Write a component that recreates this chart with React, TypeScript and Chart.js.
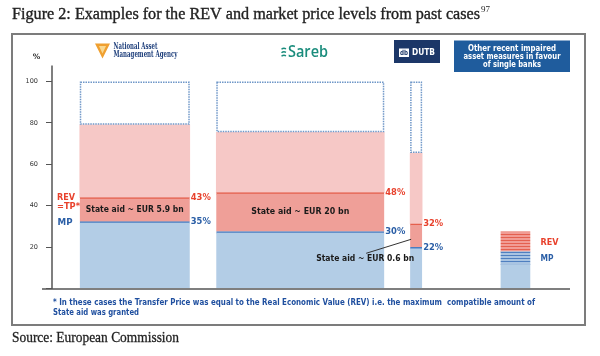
import React, { useEffect, useRef } from "react";
import { Chart, registerables } from "chart.js";

Chart.register(...registerables);

// ---------------- data ----------------
const caseNames = ["NAMA", "Sareb", "DUTB"];
const marketPrice = [32.3, 27.5, 19.9];
const realEconomicValue = [43.9, 46.3, 31.2];
const upperPinkTop = [79.1, 75.5, 65.4];
const fullValue = [100, 100, 100];
const mpLabels = ["35%", "30%", "22%"];
const revLabels = ["43%", "48%", "32%"];
const stateAidLabels = ["State aid ~ EUR 5.9 bn", "State aid ~ EUR 20 bn", "State aid ~ EUR 0.6 bn"];
const legendName = "Other";
const legendSolidMP = 11.6;
const legendStripedMP = 17.8;
const legendStripedREV = 27.4;
const yTickValues = [20, 40, 60, 80, 100];

const titleText = "Figure 2: Examples for the REV and market price levels from past cases";
const titleSup = "97";
const sourceText = "Source: European Commission";
const footnoteLines = [
  "* In these cases the Transfer Price was equal to the Real Economic Value (REV) i.e. the maximum  compatible amount of",
  "State aid was granted",
];
const otherBoxLines = ["Other recent impaired", "asset measures in favour", "of single banks"];

// ---------------- layout ----------------
const SLOT_COUNT = 30;
const caseSlots = [5, 15, 22];
const legendSlot = 28;
const caseWidths = [110, 168, 12];
const legendWidth = 29;

const BLUE = "#b3cde6";
const BLUE_LINE = "#4a7cc0";
const DARK_PINK = "#ef9f98";
const RED_LINE = "#e5604e";
const LIGHT_PINK = "#f6c8c6";
const RED_TEXT = "#e8412c";
const BLUE_TEXT = "#2a5ea6";
const DOT_BLUE = "#6f97c8";

const labels: string[] = Array.from({ length: SLOT_COUNT }, () => "");
caseSlots.forEach((s, i) => (labels[s] = caseNames[i]));
labels[legendSlot] = legendName;

function seg(slot: number, lo: number, hi: number, extra: any) {
  const data: any[] = labels.map(() => null);
  data[slot] = [lo, hi];
  return { data, borderSkipped: false, ...extra };
}

function stripePattern(bg: string, line: string) {
  const c = document.createElement("canvas");
  c.width = 4;
  c.height = 3;
  const g = c.getContext("2d")!;
  g.fillStyle = bg;
  g.fillRect(0, 0, 4, 3);
  g.fillStyle = line;
  g.fillRect(0, 0, 4, 1);
  return g.createPattern(c, "repeat");
}

function fitText(ctx: CanvasRenderingContext2D, s: string, x: number, y: number, font: string, color: string, width: number, align: "left" | "center" = "left", stroke = 0) {
  ctx.save();
  ctx.font = font;
  ctx.fillStyle = color;
  ctx.textBaseline = "middle";
  ctx.textAlign = "left";
  const w = ctx.measureText(s).width;
  const k = width / w;
  const left = align === "center" ? x - width / 2 : x;
  ctx.translate(left, y);
  ctx.scale(k, 1);
  ctx.fillText(s, 0, 0);
  if (stroke > 0) {
    ctx.strokeStyle = color;
    ctx.lineWidth = stroke;
    ctx.strokeText(s, 0, 0);
  }
  ctx.restore();
}

function plainText(ctx: CanvasRenderingContext2D, s: string, x: number, y: number, font: string, color: string, align: CanvasTextAlign = "left") {
  ctx.font = font;
  ctx.fillStyle = color;
  ctx.textAlign = align;
  ctx.textBaseline = "middle";
  ctx.fillText(s, x, y);
}

const decorPlugin = {
  id: "decor",
  beforeDraw(chart: any) {
    const ctx: CanvasRenderingContext2D = chart.ctx;
    ctx.save();
    ctx.fillStyle = "#fff";
    ctx.fillRect(0, 0, chart.width, chart.height);

    // title
    fitText(ctx, titleText, 12, 14.5, "16.5px 'Liberation Serif'", "#222", 468, "left", 0.35);
    plainText(ctx, titleSup, 481, 9.5, "9px 'Liberation Serif'", "#222");
    // source
    fitText(ctx, sourceText, 12, 337.5, "15.5px 'Liberation Serif'", "#222", 167, "left", 0.3);

    // frame
    ctx.strokeStyle = "#7c7c7c";
    ctx.lineWidth = 2;
    ctx.strokeRect(12, 34, 573, 291);

    // NAMA logo
    ctx.fillStyle = "#f0a030";
    ctx.beginPath();
    ctx.moveTo(95, 43.5);
    ctx.lineTo(110, 43.5);
    ctx.lineTo(102.5, 58.5);
    ctx.closePath();
    ctx.fill();
    ctx.fillStyle = "#f9d890";
    ctx.beginPath();
    ctx.moveTo(99, 46);
    ctx.lineTo(106, 46);
    ctx.lineTo(102.5, 53.5);
    ctx.closePath();
    ctx.fill();
    fitText(ctx, "National Asset", 113.5, 46.5, "bold 8.5px 'DejaVu Serif'", "#1c3d7a", 44);
    fitText(ctx, "Management Agency", 113.5, 55, "bold 8.5px 'DejaVu Serif'", "#1c3d7a", 64);

    // Sareb logo
    ctx.strokeStyle = "#1a8c7c";
    ctx.lineWidth = 1.4;
    for (let k = 0; k < 3; k++) {
      const yy = 48.5 + k * 3.5;
      ctx.beginPath();
      ctx.moveTo(281.5, yy + 0.8);
      ctx.quadraticCurveTo(283.5, yy - 1, 286, yy + 0.3);
      ctx.stroke();
    }
    fitText(ctx, "Sareb", 288, 52.5, "600 17px 'Open Sans'", "#1a8c7c", 40);

    // DUTB logo
    ctx.fillStyle = "#1c3768";
    ctx.fillRect(394, 40, 46, 23);
    ctx.fillStyle = "#fff";
    ctx.fillRect(399, 48.5, 10, 8.5);
    fitText(ctx, "db", 400, 52.8, "bold 7px 'DejaVu Sans'", "#1c3768", 8);
    fitText(ctx, "DUTB", 412, 52.5, "bold 8px 'DejaVu Sans'", "#fff", 23);

    // other box
    ctx.fillStyle = "#1f5c9d";
    ctx.fillRect(454, 40.5, 116, 31.5);
    const ow = [88, 97, 58];
    otherBoxLines.forEach((l, i) => fitText(ctx, l, 512, 48.5 + i * 8.3, "bold 8px 'DejaVu Sans'", "#fff", ow[i], "center"));

    // footnote
    fitText(ctx, footnoteLines[0], 53, 302.7, "bold 8px 'DejaVu Sans'", "#1f4f9f", 482);
    fitText(ctx, footnoteLines[1], 53, 312.7, "bold 8px 'DejaVu Sans'", "#1f4f9f", 86);

    // % label
    plainText(ctx, "%", 36.5, 57.5, "bold 7.5px 'DejaVu Sans'", "#333", "center");
    ctx.restore();
  },
  afterDatasetsDraw(chart: any) {
    const ctx: CanvasRenderingContext2D = chart.ctx;
    const area = chart.chartArea;
    const y = chart.scales.y;
    ctx.save();

    // dotted outlines of the remaining (upper) part
    chart.data.datasets.forEach((ds: any, di: number) => {
      if (!ds.dottedOutline) return;
      const meta = chart.getDatasetMeta(di);
      meta.data.forEach((el: any, idx: number) => {
        if (ds.data[idx] == null) return;
        const { x, y: top, base, width } = el.getProps(["x", "y", "base", "width"], true);
        ctx.strokeStyle = DOT_BLUE;
        ctx.lineWidth = 1.5;
        ctx.setLineDash([1.5, 1]);
        ctx.strokeRect(x - width / 2 + 0.75, top + 0.75, width - 1.5, base - top - 1.5);
        ctx.setLineDash([]);
      });
    });

    // axes
    ctx.strokeStyle = "#555";
    ctx.lineWidth = 1.5;
    ctx.beginPath();
    ctx.moveTo(area.left, area.top - 16);
    ctx.lineTo(area.left, area.bottom);
    ctx.moveTo(area.left - 10, area.bottom + 0.5);
    ctx.lineTo(area.right + 38, area.bottom + 0.5);
    ctx.stroke();

    // per-case annotations
    caseSlots.forEach((slot, i) => {
      const el = chart.getDatasetMeta(i * 4).data[slot];
      const { x, width } = el.getProps(["x", "width"], true);
      const right = x + width / 2;
      const left = x - width / 2;
      const font = "bold 8px 'DejaVu Sans'";
      fitText(ctx, revLabels[i], right + 1, y.getPixelForValue(realEconomicValue[i]), font, RED_TEXT, 20);
      fitText(ctx, mpLabels[i], right + 1, y.getPixelForValue(marketPrice[i]) + 0.5, font, BLUE_TEXT, 20);
      if (width > 50) {
        const my = y.getPixelForValue((marketPrice[i] + realEconomicValue[i]) / 2);
        fitText(ctx, stateAidLabels[i], x, my, font, "#1a1a1a", 98, "center");
      } else {
        const mpY = y.getPixelForValue(marketPrice[i]);
        const tx = left - 45;
        const ty = mpY + 12;
        fitText(ctx, stateAidLabels[i], tx, ty, font, "#1a1a1a", 98, "center");
        ctx.strokeStyle = "#333";
        ctx.lineWidth = 1;
        ctx.beginPath();
        ctx.moveTo(tx + 1, ty - 6);
        ctx.lineTo(left + 1, mpY - 8);
        ctx.stroke();
      }
      if (i === 0) {
        fitText(ctx, "REV", 57, y.getPixelForValue(realEconomicValue[i]), font, RED_TEXT, 18);
        fitText(ctx, "=TP*", 57, y.getPixelForValue(realEconomicValue[i]) + 9, font, RED_TEXT, 23);
        fitText(ctx, "MP", 57.5, y.getPixelForValue(marketPrice[i]) + 1, font, BLUE_TEXT, 15);
      }
    });

    // legend bar labels
    const lel = chart.getDatasetMeta(caseSlots.length * 4).data[legendSlot];
    const lr = lel.getProps(["x", "width"], true);
    const lx = lr.x + lr.width / 2 + 10.5;
    fitText(ctx, "REV", lx, y.getPixelForValue((legendStripedMP + legendStripedREV) / 2) + 1, "bold 8px 'DejaVu Sans'", RED_TEXT, 18);
    fitText(ctx, "MP", lx, y.getPixelForValue(legendStripedMP) + 7.5, "bold 8px 'DejaVu Sans'", BLUE_TEXT, 13);
    ctx.restore();
  },
};

export default function App() {
  const ref = useRef<HTMLCanvasElement | null>(null);

  useEffect(() => {
    document.body.style.margin = "0";
    const canvas = ref.current!;
    const datasets: any[] = [];
    caseSlots.forEach((slot, i) => {
      const w = caseWidths[i];
      datasets.push(
        seg(slot, 0, marketPrice[i], {
          backgroundColor: BLUE,
          borderColor: BLUE_LINE,
          borderWidth: { top: 1.5, right: 0, bottom: 0, left: 0 },
          barThickness: w,
        })
      );
      datasets.push(
        seg(slot, marketPrice[i], realEconomicValue[i], {
          backgroundColor: DARK_PINK,
          borderColor: RED_LINE,
          borderWidth: { top: 1.5, right: 0, bottom: 0, left: 0 },
          barThickness: w,
        })
      );
      datasets.push(
        seg(slot, realEconomicValue[i], upperPinkTop[i], {
          backgroundColor: LIGHT_PINK,
          borderWidth: 0,
          barThickness: w,
        })
      );
      datasets.push(
        seg(slot, upperPinkTop[i], fullValue[i], {
          backgroundColor: "#ffffff",
          borderWidth: 0,
          barThickness: w,
          dottedOutline: true,
        })
      );
    });
    datasets.push(
      seg(legendSlot, 0, legendSolidMP, { backgroundColor: BLUE, borderWidth: 0, barThickness: legendWidth })
    );
    datasets.push(
      seg(legendSlot, legendSolidMP, legendStripedMP, {
        backgroundColor: stripePattern("#a9c4e2", "#4f7fc0"),
        borderWidth: 0,
        barThickness: legendWidth,
      })
    );
    datasets.push(
      seg(legendSlot, legendStripedMP, legendStripedREV, {
        backgroundColor: stripePattern("#f19c94", "#e4604f"),
        borderWidth: 0,
        barThickness: legendWidth,
      })
    );

    const chart = new Chart(canvas, {
      type: "bar",
      data: { labels, datasets },
      options: {
        animation: false,
        responsive: false,
        devicePixelRatio: 1,
        layout: { padding: { top: 81.5, bottom: 67.5, left: 0, right: 68 } },
        datasets: { bar: { grouped: false } } as any,
        plugins: {
          legend: { display: false },
          tooltip: { enabled: false },
          title: { display: false },
        },
        scales: {
          x: { type: "category", display: false, offset: false },
          y: {
            min: 0,
            max: 100,
            afterFit: (s: any) => {
              s.width = 52;
            },
            border: { display: false },
            grid: { display: true, drawOnChartArea: false, drawTicks: true, tickLength: 6, color: "#555", lineWidth: 1 },
            ticks: {
              stepSize: 20,
              padding: 8,
              color: "#333",
              font: { family: "DejaVu Sans", size: 6.5 },
              callback: (v: any) => (yTickValues.includes(Number(v)) ? String(v) : ""),
            },
          },
        },
      } as any,
      plugins: [decorPlugin],
    });
    return () => chart.destroy();
  }, []);

  return <canvas ref={ref} width={600} height={356} style={{ display: "block", width: 600, height: 356 }} />;
}
